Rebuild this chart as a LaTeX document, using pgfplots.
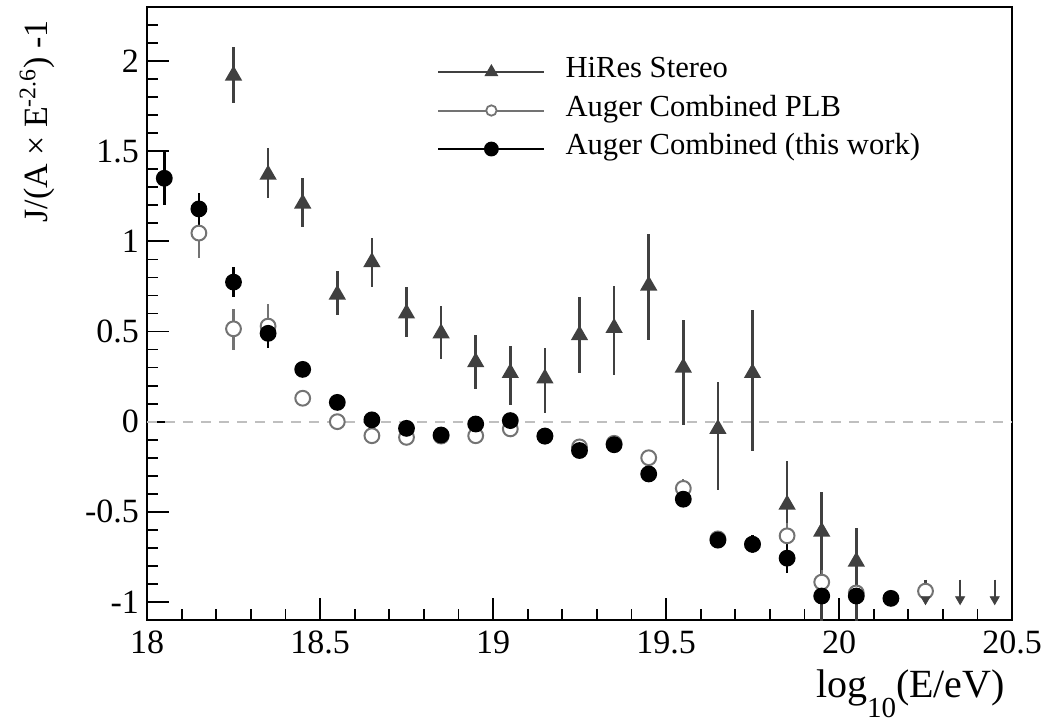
\documentclass[border=0pt]{standalone}
\usepackage{pgfplots}
\pgfplotsset{compat=1.18}
\usepackage{fontspec}
\setmainfont{Liberation Serif}
\definecolor{hires}{gray}{0.25}
\definecolor{plb}{gray}{0.45}
\definecolor{zeroline}{gray}{0.75}

\pgfplotstableread{
x y ep em
18.25 1.92 0.16 0.15
18.35 1.37 0.15 0.13
18.45 1.21 0.14 0.13
18.55 0.705 0.13 0.115
18.65 0.885 0.135 0.14
18.75 0.60 0.146 0.13
18.85 0.49 0.15 0.14
18.95 0.33 0.15 0.15
19.05 0.27 0.15 0.18
19.15 0.24 0.17 0.19
19.25 0.48 0.21 0.21
19.35 0.52 0.235 0.26
19.45 0.755 0.285 0.30
19.55 0.30 0.265 0.32
19.65 -0.04 0.26 0.34
19.75 0.27 0.35 0.43
19.85 -0.46 0.24 0.38
19.95 -0.61 0.22 0.6
20.05 -0.776 0.186 0.5
}\hires

\pgfplotstableread{
x y ep em
18.15 1.046 0.14 0.14
18.25 0.515 0.11 0.12
18.35 0.53 0.12 0.12
18.45 0.13 0.02 0.02
18.55 0.0 0.02 0.02
18.65 -0.078 0.02 0.02
18.75 -0.087 0.02 0.02
18.85 -0.08 0.02 0.02
18.95 -0.078 0.02 0.02
19.05 -0.04 0.02 0.02
19.15 -0.08 0.02 0.02
19.25 -0.14 0.03 0.03
19.35 -0.12 0.03 0.03
19.45 -0.20 0.04 0.04
19.55 -0.37 0.05 0.05
19.65 -0.65 0.04 0.04
19.75 -0.68 0.04 0.04
19.85 -0.633 0.07 0.07
19.95 -0.89 0.07 0.07
20.05 -0.95 0.04 0.04
20.25 -0.94 0.03 0.03
}\plb

\pgfplotstableread{
x y ep em
18.05 1.35 0.15 0.15
18.15 1.18 0.09 0.09
18.25 0.774 0.083 0.083
18.35 0.49 0.08 0.08
18.45 0.29 0.03 0.03
18.55 0.107 0.02 0.02
18.65 0.01 0.02 0.02
18.75 -0.037 0.02 0.02
18.85 -0.074 0.02 0.02
18.95 -0.013 0.02 0.02
19.05 0.006 0.02 0.02
19.15 -0.08 0.02 0.02
19.25 -0.16 0.025 0.025
19.35 -0.128 0.03 0.03
19.45 -0.29 0.04 0.04
19.55 -0.43 0.04 0.04
19.65 -0.657 0.04 0.04
19.75 -0.68 0.05 0.05
19.85 -0.757 0.08 0.08
19.95 -0.967 0.03 0.03
20.05 -0.967 0.03 0.03
20.15 -0.98 0.02 0.02
}\comb

\pgfplotstableread{
x y ep
20.25 -0.985 0.07
20.35 -0.985 0.07
20.45 -0.985 0.07
}\ulim

\begin{document}
\begin{tikzpicture}
\useasboundingbox (-73.5pt,-50.5pt) rectangle (450pt,310pt);
\begin{axis}[
  at={(0,0)}, anchor=south west,
  scale only axis, width=432.5pt, height=306.5pt,
  xmin=18, xmax=20.5, ymin=-1.1, ymax=2.3,
  axis line style={line width=1pt},
  xtick={18,18.5,19,19.5,20,20.5},
  xticklabels={18,18.5,19,19.5,20,20.5},
  ytick={-1,-0.5,0,0.5,1,1.5,2},
  yticklabels={-1,-0.5,0,0.5,1,1.5,2},
  minor xtick={18.1,18.2,...,20.45},
  minor ytick={-1.1,-1.0,...,2.3},
  xtick pos=bottom, ytick pos=left,
  tick align=inside,
  major tick length=11pt, minor tick length=5.5pt,
  tick style={line width=0.9pt, black},
  ticklabel style={font=\fontsize{17}{18}\selectfont},
  xticklabel style={yshift=-2pt},
  yticklabel style={xshift=-0.5pt},
  xlabel={log\raisebox{-0.5em}{\fontsize{14.5}{15}\selectfont 10}(E/eV)},
  ylabel={J/(A × E\textsuperscript{-2.6}) -1},
  xlabel style={font=\fontsize{20}{22}\selectfont, at={(axis description cs:1.0,-0.126)}, anchor=base east},
  ylabel style={font=\fontsize{17}{18}\selectfont, at={(axis description cs:-0.1145,0.99)}, anchor=base east},
  legend style={at={(axis description cs:0.335,0.926)}, anchor=north west,
    draw=none, fill=none, font=\fontsize{15.3}{16}\selectfont,
    row sep=0pt, inner xsep=0pt, inner ysep=0pt,
    nodes={inner xsep=10pt, inner ysep=0pt, text height=12.5pt, text depth=6.75pt}},
  legend cell align=left,
  error bars/error bar style={line width=1.3pt},
  error bars/error mark=none,
  clip=true,
]
\addplot[zeroline, dashed, line width=0.9pt, dash pattern=on 5pt off 4pt, forget plot] coordinates {(18,0) (20.5,0)};

\addplot[hires, only marks, mark=triangle*, mark size=4pt, line width=1pt,
  legend image code/.code={\draw[hires, line width=1pt] (0pt,0pt) -- (53pt,0pt);
    \draw[hires, fill=hires] plot[mark=triangle*, mark size=3pt] coordinates {(26.5pt,0pt)};},
  error bars/.cd, y dir=both, y explicit,
  error bar style={hires}]
  table[x=x, y=y, y error plus=ep, y error minus=em] {\hires};

\addplot[plb, only marks, mark=*, mark size=3.7pt, line width=1pt,
  mark options={fill=white, draw=plb},
  legend image code/.code={\draw[plb, line width=1pt] (0pt,0pt) -- (26.5pt-2.6pt,0pt) (26.5pt+2.6pt,0pt) -- (53pt,0pt);
    \draw[plb, line width=0.9pt] (26.5pt,0pt) circle (2.6pt);},
  error bars/.cd, y dir=both, y explicit,
  error bar style={plb, line width=1.1pt}]
  table[x=x, y=y, y error plus=ep, y error minus=em] {\plb};

\addplot[black, only marks, mark=*, mark size=3.7pt, line width=1pt,
  legend image code/.code={\draw[black, line width=1.2pt] (0pt,0pt) -- (53pt,0pt);
    \fill[black] (26.5pt,0pt) circle (3.2pt);},
  error bars/.cd, y dir=both, y explicit,
  error bar style={black}]
  table[x=x, y=y, y error plus=ep, y error minus=em] {\comb};

\addplot[hires, only marks, mark=triangle*, mark size=2.6pt,
  mark options={rotate=180}, forget plot,
  error bars/.cd, y dir=plus, y explicit, error mark=-,
  error mark options={line width=1.1pt, mark size=3.5pt},
  error bar style={hires, line width=1.1pt}]
  table[x=x, y=y, y error plus=ep] {\ulim};

\legend{HiRes Stereo, Auger Combined PLB, Auger Combined (this work)}
\end{axis}
\end{tikzpicture}
\end{document}
